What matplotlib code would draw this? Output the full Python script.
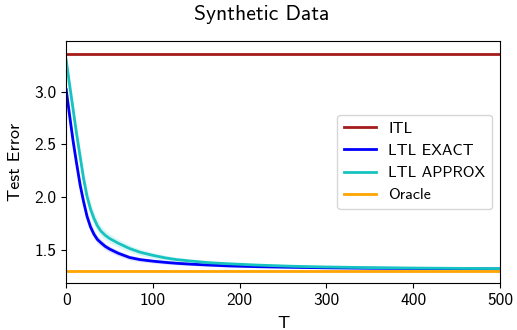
import matplotlib
matplotlib.use('Agg')
import matplotlib.pyplot as plt
import numpy as np

T = [0, 4, 8, 12, 16, 20, 24, 28, 32, 36, 40, 45, 50, 60, 73, 85, 100, 115,
     127, 145, 165, 188, 220, 260, 300, 350, 400, 450, 500]
ltl_exact = [3.02, 2.77, 2.53, 2.32, 2.12, 1.96, 1.82, 1.72, 1.65, 1.60, 1.57,
             1.535, 1.51, 1.47, 1.43, 1.41, 1.395, 1.383, 1.375, 1.366, 1.358,
             1.35, 1.343, 1.337, 1.332, 1.328, 1.326, 1.324, 1.322]
ltl_approx = [3.30, 3.06, 2.83, 2.60, 2.39, 2.18, 2.01, 1.89, 1.80, 1.73, 1.68,
              1.64, 1.61, 1.565, 1.515, 1.48, 1.45, 1.425, 1.41, 1.395, 1.38,
              1.37, 1.358, 1.347, 1.34, 1.334, 1.33, 1.327, 1.325]
exact_err = [0.06, 0.07, 0.07, 0.065, 0.06, 0.055, 0.05, 0.045, 0.04, 0.037,
             0.034, 0.031, 0.029, 0.026, 0.022, 0.02, 0.018, 0.016, 0.015,
             0.013, 0.012, 0.011, 0.01, 0.009, 0.008, 0.008, 0.007, 0.007,
             0.007]
approx_err = [0.05, 0.07, 0.08, 0.08, 0.08, 0.075, 0.07, 0.065, 0.06, 0.055,
              0.05, 0.046, 0.043, 0.039, 0.034, 0.03, 0.027, 0.024, 0.022,
              0.02, 0.018, 0.016, 0.014, 0.012, 0.011, 0.01, 0.009, 0.009,
              0.009]
itl = 3.355
itl_err = 0.012
oracle = 1.303
oracle_err = 0.008

plt.rcParams['font.family'] = ['cmss10', 'DejaVu Sans']
plt.rcParams['axes.unicode_minus'] = False
plt.rcParams['mathtext.fontset'] = 'cm'

fig = plt.figure(figsize=(5.17, 3.30), dpi=100)
ax = fig.add_axes([0.128, 0.142, 0.839, 0.734])

t = np.array(T)
x_full = [0, 500]

ax.plot(x_full, [itl, itl], color='#a51c1c', lw=2, label='ITL')
ax.fill_between(x_full, itl - itl_err, itl + itl_err, color='#a51c1c',
                alpha=0.15, lw=0)

ex = np.array(ltl_exact)
ax.plot(t, ex, color='#0000ff', lw=2, label='LTL EXACT')
ax.fill_between(t, ex - np.array(exact_err), ex + np.array(exact_err),
                color='#0000ff', alpha=0.12, lw=0)

ap = np.array(ltl_approx)
ax.plot(t, ap, color='#17c3c0', lw=2, label='LTL APPROX')
ax.fill_between(t, ap - np.array(approx_err), ap + np.array(approx_err),
                color='#17c3c0', alpha=0.15, lw=0)

ax.plot(x_full, [oracle, oracle], color='#ffa500', lw=2, label='Oracle')
ax.fill_between(x_full, oracle - oracle_err, oracle + oracle_err,
                color='#ffa500', alpha=0.2, lw=0)

ax.set_xlim(0, 500)
ax.set_ylim(1.187, 3.48)
ax.set_yticks([1.5, 2.0, 2.5, 3.0])
ax.set_xticks([0, 100, 200, 300, 400, 500])
ax.tick_params(labelsize=12.5)
ax.set_xlabel('T', fontsize=13, labelpad=6)
ax.set_ylabel('Test Error', fontsize=13, labelpad=8)
fig.suptitle('Synthetic Data', fontsize=15.5, x=0.506, y=0.985)
ax.legend(loc='center right', fontsize=11.5, bbox_to_anchor=(1.0, 0.5))

plt.savefig('out.png', dpi=100)
